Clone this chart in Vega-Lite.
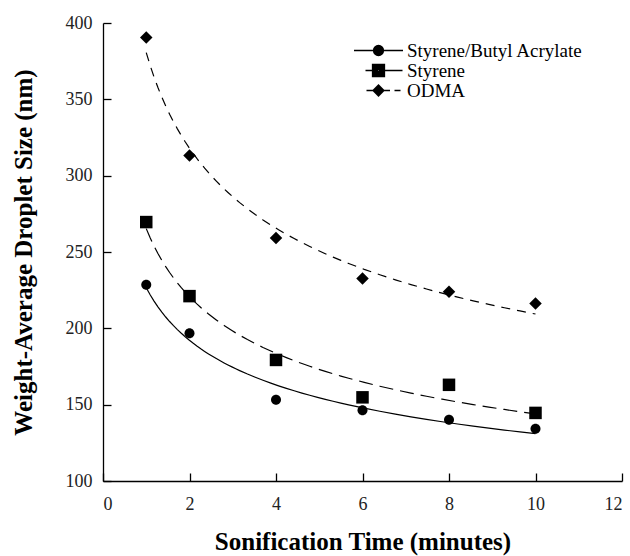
{
  "$schema": "https://vega.github.io/schema/vega-lite/v6.json",
  "width": 519,
  "height": 458,
  "autosize": "none",
  "padding": {"left": 103, "top": 23, "right": 8, "bottom": 75},
  "background": "white",
  "config": {
    "view": {"stroke": null},
    "font": "Liberation Serif",
    "legend": {"disable": false},
    "axis": {
      "grid": false,
      "domainColor": "black",
      "domainWidth": 1.3,
      "tickColor": "black",
      "tickWidth": 1.3,
      "labelFont": "Liberation Serif",
      "labelFontSize": 18,
      "labelColor": "#222",
      "titleFont": "Liberation Serif",
      "titleFontSize": 25,
      "titleFontWeight": "bold",
      "titleColor": "black"
    }
  },
  "data": {
    "values": [
      {"time": 1, "size": 228.6, "series": "Styrene/Butyl Acrylate"},
      {"time": 2, "size": 196.7, "series": "Styrene/Butyl Acrylate"},
      {"time": 4, "size": 153.3, "series": "Styrene/Butyl Acrylate"},
      {"time": 6, "size": 146.3, "series": "Styrene/Butyl Acrylate"},
      {"time": 8, "size": 140.2, "series": "Styrene/Butyl Acrylate"},
      {"time": 10, "size": 134.3, "series": "Styrene/Butyl Acrylate"},
      {"time": 1, "size": 269.6, "series": "Styrene"},
      {"time": 2, "size": 221.1, "series": "Styrene"},
      {"time": 4, "size": 179.3, "series": "Styrene"},
      {"time": 6, "size": 154.8, "series": "Styrene"},
      {"time": 8, "size": 163.0, "series": "Styrene"},
      {"time": 10, "size": 144.6, "series": "Styrene"},
      {"time": 1, "size": 390.5, "series": "ODMA"},
      {"time": 2, "size": 313.2, "series": "ODMA"},
      {"time": 4, "size": 259.1, "series": "ODMA"},
      {"time": 6, "size": 232.6, "series": "ODMA"},
      {"time": 8, "size": 223.9, "series": "ODMA"},
      {"time": 10, "size": 216.3, "series": "ODMA"}
    ]
  },
  "encoding": {
    "x": {
      "field": "time",
      "type": "quantitative",
      "scale": {"domain": [0, 12], "nice": false},
      "axis": {
        "values": [0, 2, 4, 6, 8, 10, 12],
        "tickSize": -8,
        "labelPadding": 22,
        "title": "Sonification Time (minutes)",
        "titlePadding": 16
      }
    },
    "y": {
      "field": "size",
      "type": "quantitative",
      "scale": {"domain": [100, 400], "nice": false, "zero": false},
      "axis": {
        "values": [100, 150, 200, 250, 300, 350, 400],
        "tickSize": -8,
        "labelPadding": 19,
        "title": "Weight-Average Droplet Size (nm)",
        "titlePadding": 29
      }
    }
  },
  "layer": [
    {
      "transform": [
        {"filter": "datum.series === 'Styrene/Butyl Acrylate'"},
        {"regression": "size", "on": "time", "method": "pow", "extent": [1, 10]}
      ],
      "mark": {"type": "line", "color": "black", "strokeWidth": 1.2},
      "encoding": {}
    },
    {
      "transform": [
        {"filter": "datum.series === 'Styrene'"},
        {"regression": "size", "on": "time", "method": "pow", "extent": [1, 10]}
      ],
      "mark": {"type": "line", "color": "black", "strokeWidth": 1.2, "strokeDash": [14, 7]},
      "encoding": {}
    },
    {
      "transform": [
        {"filter": "datum.series === 'ODMA'"},
        {"regression": "size", "on": "time", "method": "pow", "extent": [1, 10]}
      ],
      "mark": {"type": "line", "color": "black", "strokeWidth": 1.2, "strokeDash": [9, 7]},
      "encoding": {}
    },
    {
      "transform": [{"filter": "datum.series === 'Styrene/Butyl Acrylate'"}],
      "mark": {"type": "point", "filled": true, "color": "black", "opacity": 1, "size": 100, "shape": "M1,0A1,1,0,1,1,-1,0A1,1,0,1,1,1,0Z"}
    },
    {
      "transform": [{"filter": "datum.series === 'Styrene'"}],
      "mark": {"type": "point", "filled": true, "color": "black", "opacity": 1, "size": 100, "shape": "M-1.25,-1.25H1.25V1.25H-1.25Z"}
    },
    {
      "transform": [{"filter": "datum.series === 'ODMA'"}],
      "mark": {"type": "point", "filled": true, "color": "black", "opacity": 1, "size": 100, "shape": "M-1.25,0L0,-1.25L1.25,0L0,1.25Z"}
    },
    {
      "mark": {"type": "point", "filled": false, "color": "black", "strokeWidth": 1.2, "size": 0},
      "encoding": {
        "shape": {
          "field": "series",
          "type": "nominal",
          "scale": {
            "domain": ["Styrene/Butyl Acrylate", "Styrene", "ODMA"],
            "range": [
              "M-4.9,0H4.9M1,0A1,1,0,1,1,-1,0A1,1,0,1,1,1,0M0.8,0A0.8,0.8,0,1,1,-0.8,0A0.8,0.8,0,1,1,0.8,0M0.6,0A0.6,0.6,0,1,1,-0.6,0A0.6,0.6,0,1,1,0.6,0M0.4,0A0.4,0.4,0,1,1,-0.4,0A0.4,0.4,0,1,1,0.4,0M0.2,0A0.2,0.2,0,1,1,-0.2,0A0.2,0.2,0,1,1,0.2,0",
              "M-2.6,0H-1.2M1.2,0H4.8M-1.2,-1.2H1.2V1.2H-1.2ZM-1,-1H1V1H-1ZM-0.8,-0.8H0.8V0.8H-0.8ZM-0.6,-0.6H0.6V0.6H-0.6ZM-0.4,-0.4H0.4V0.4H-0.4ZM-0.2,-0.2H0.2V0.2H-0.2Z",
              "M-2.4,0H-1.1M1.1,0H2.3M3.2,0H4.4M-1.1,0L0,-1.1L1.1,0L0,1.1ZM-0.9,0L0,-0.9L0.9,0L0,0.9ZM-0.7,0L0,-0.7L0.7,0L0,0.7ZM-0.5,0L0,-0.5L0.5,0L0,0.5ZM-0.3,0L0,-0.3L0.3,0L0,0.3ZM-0.1,0L0,-0.1L0.1,0L0,0.1Z"
            ]
          },
          "legend": {
            "title": null,
            "orient": "none",
            "legendX": 266,
            "legendY": 18,
            "symbolSize": 100,
            "symbolStrokeColor": "black",
            "symbolStrokeWidth": 1.3,
            "symbolOpacity": 1,
            "labelFont": "Liberation Serif",
            "labelFontSize": 19,
            "labelColor": "black",
            "labelOffset": 19,
            "rowPadding": -3.5,
            "labelLimit": 300
          }
        }
      }
    }
  ]
}
